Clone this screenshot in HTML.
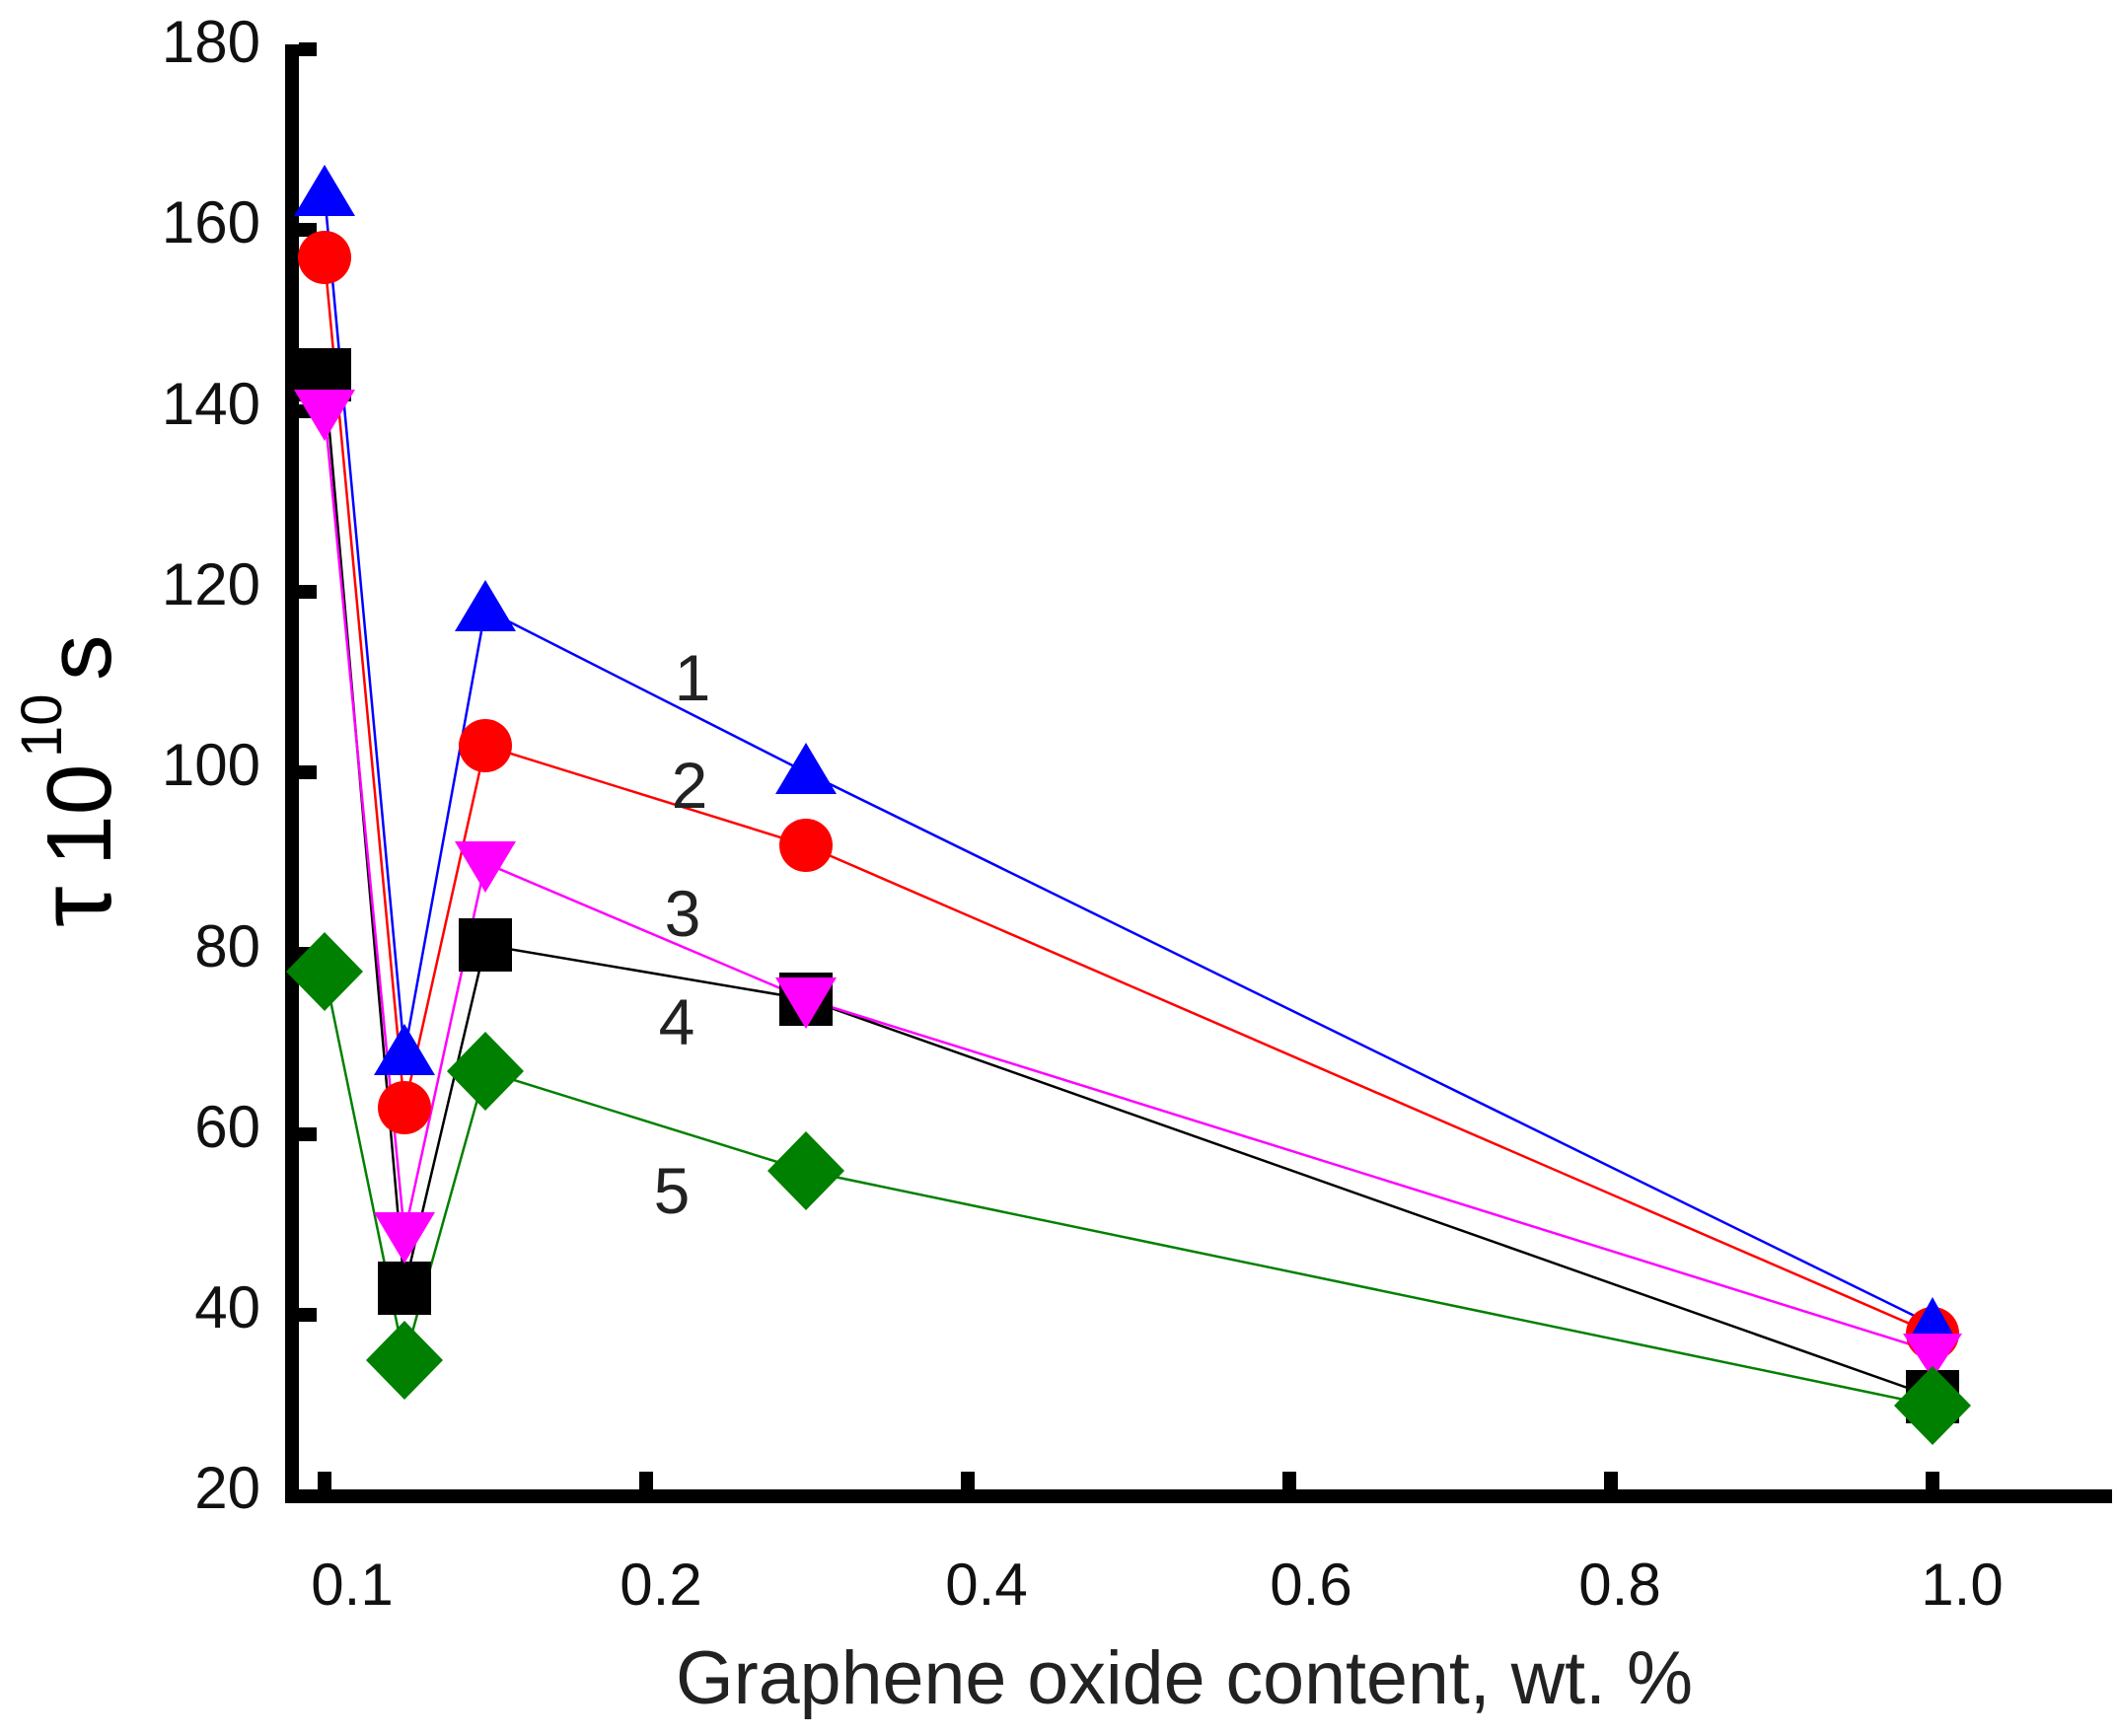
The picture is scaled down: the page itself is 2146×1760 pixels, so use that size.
<!DOCTYPE html>
<html><head><meta charset="utf-8"><style>
html,body{margin:0;padding:0;background:#fff;}
svg{display:block;}
text{font-family:"Liberation Sans","DejaVu Sans",sans-serif;}
</style></head><body>
<svg width="2146" height="1760" viewBox="0 0 2146 1760" xmlns="http://www.w3.org/2000/svg">
<rect width="2146" height="1760" fill="#fff"/>
<rect x="289" y="1510" width="1852" height="14" fill="#000"/>
<rect x="289" y="45" width="14" height="1479" fill="#000"/>
<g fill="#000">
<rect x="303" y="43" width="18" height="14"/>
<rect x="303" y="226" width="18" height="14"/>
<rect x="303" y="410" width="18" height="14"/>
<rect x="303" y="593" width="18" height="14"/>
<rect x="303" y="776" width="18" height="14"/>
<rect x="303" y="960" width="18" height="14"/>
<rect x="303" y="1143" width="18" height="14"/>
<rect x="303" y="1326" width="18" height="14"/>
<rect x="322" y="1492" width="14" height="20"/>
<rect x="648" y="1492" width="14" height="20"/>
<rect x="974" y="1492" width="14" height="20"/>
<rect x="1300" y="1492" width="14" height="20"/>
<rect x="1626" y="1492" width="14" height="20"/>
<rect x="1952" y="1492" width="14" height="20"/>
</g>
<g font-size="60" text-anchor="end" fill="#111">
<text x="264" y="63">180</text>
<text x="264" y="246">160</text>
<text x="264" y="430">140</text>
<text x="264" y="613">120</text>
<text x="264" y="796">100</text>
<text x="264" y="980">80</text>
<text x="264" y="1163">60</text>
<text x="264" y="1346">40</text>
<text x="264" y="1529">20</text>
</g>
<g font-size="60" text-anchor="middle" fill="#111">
<text x="357" y="1627">0.1</text>
<text x="670" y="1627">0.2</text>
<text x="1000" y="1627">0.4</text>
<text x="1329" y="1627">0.6</text>
<text x="1642" y="1627">0.8</text>
<text x="1989" y="1627">1.0</text>
</g>
<text x="685" y="1727" font-size="76" fill="#222" textLength="1031" lengthAdjust="spacingAndGlyphs">Graphene oxide content, wt. %</text>
<g transform="translate(112,940) rotate(-90)" fill="#000">
<text x="0" y="0" font-size="105" font-family="'DejaVu Serif','Liberation Serif',serif">τ</text>
<text x="62" y="0" font-size="93">10</text>
<text x="172" y="-50" font-size="58">10</text>
<text x="250" y="0" font-size="93">s</text>
</g>
<g fill="none" stroke-width="2.5">
<polyline stroke="#0000ff" points="329,197 410,1068 492,618 817,783 1959,1343"/>
<polyline stroke="#ff0000" points="329,261 410,1123 492,756 817,857 1959,1352"/>
<polyline stroke="#000000" points="329,380 410,1306 492,958 817,1013 1959,1416"/>
<polyline stroke="#ff00ff" points="329,417 410,1251 492,875 817,1013 1959,1370"/>
<polyline stroke="#008000" points="329,985 410,1379 492,1086 817,1187 1959,1425"/>
</g>
<g fill="#0000ff">
<polygon points="329,167 298,219 360,219"/>
<polygon points="410,1038 379,1090 441,1090"/>
<polygon points="492,588 461,640 523,640"/>
<polygon points="817,753 786,805 848,805"/>
</g>
<g fill="#000">
<rect x="302" y="353" width="54" height="54"/>
<rect x="383" y="1279" width="54" height="54"/>
<rect x="465" y="931" width="54" height="54"/>
<rect x="790" y="986" width="54" height="54"/>
<rect x="1932" y="1389" width="54" height="54"/>
</g>
<g fill="#ff0000">
<circle cx="329" cy="261" r="27"/>
<circle cx="410" cy="1123" r="27"/>
<circle cx="492" cy="756" r="27"/>
<circle cx="817" cy="857" r="27"/>
<circle cx="1959" cy="1352" r="27"/>
</g>
<g fill="#0000ff">
<polygon points="1959,1315 1934,1360 1984,1360"/>
</g>
<g fill="#ff00ff">
<polygon points="298,395 360,395 329,447"/>
<polygon points="379,1229 441,1229 410,1281"/>
<polygon points="461,853 523,853 492,905"/>
<polygon points="786,991 848,991 817,1043"/>
<polygon points="1929,1352 1989,1352 1959,1398"/>
</g>
<g fill="#008000">
<polygon points="329,945 368,985 329,1025 290,985"/>
<polygon points="410,1339 449,1379 410,1419 371,1379"/>
<polygon points="492,1046 531,1086 492,1126 453,1086"/>
<polygon points="817,1147 856,1187 817,1227 778,1187"/>
<polygon points="1959,1385 1998,1425 1959,1465 1920,1425"/>
</g>
<g font-size="66" text-anchor="middle" fill="#222">
<text x="702" y="710">1</text>
<text x="699" y="819">2</text>
<text x="692" y="949">3</text>
<text x="686" y="1059">4</text>
<text x="681" y="1230">5</text>
</g>
</svg>
</body></html>
